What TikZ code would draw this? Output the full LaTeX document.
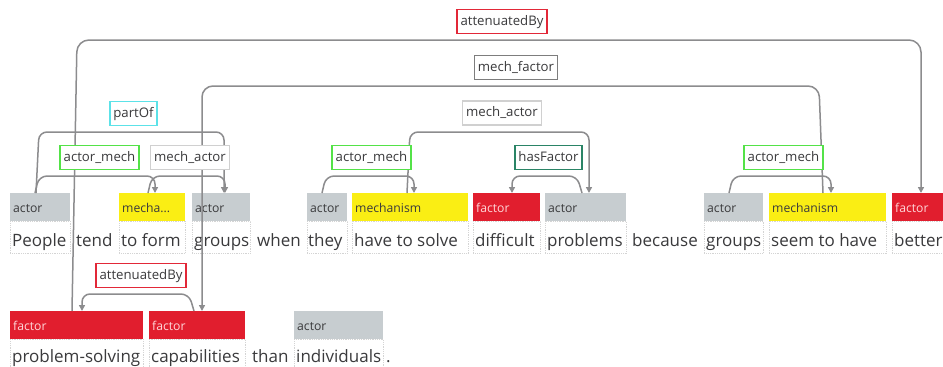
\documentclass[tikz,border=0pt]{standalone}
\usepackage{fontspec}
\setmainfont{Open Sans}
\usetikzlibrary{arrows.meta}

\newcommand\wordfont{\fontsize{17}{20}\selectfont}
\newcommand\tagfont{\fontsize{12.2}{14}\selectfont}
\newcommand\relfont{\fontsize{13.2}{15}\selectfont}

\definecolor{actorgrey}{RGB}{199,205,208}
\definecolor{mechyellow}{RGB}{250,238,20}
\definecolor{factorred}{RGB}{225,30,46}
\definecolor{factortext}{RGB}{255,214,216}
\definecolor{inkdark}{RGB}{58,58,60}
\definecolor{arcgrey}{RGB}{140,140,142}
\definecolor{framegrey}{RGB}{212,212,212}
\definecolor{relred}{RGB}{226,40,56}
\definecolor{relgrey}{RGB}{125,125,125}
\definecolor{rellight}{RGB}{208,208,208}
\definecolor{relcyan}{RGB}{92,226,232}
\definecolor{relgreen}{RGB}{84,226,72}
\definecolor{relteal}{RGB}{42,132,102}

\tikzset{
  spanbox/.style={anchor=north west, minimum height=28pt, inner xsep=3pt,
    inner ysep=0pt, text height=11.5pt, text depth=0pt, align=left,
    font=\tagfont, text=inkdark},
  actorspan/.style={spanbox, fill=actorgrey},
  mechspan/.style={spanbox, fill=mechyellow},
  factorspan/.style={spanbox, fill=factorred, text=factortext},
  word/.style={anchor=base west, inner sep=0pt, font=\wordfont, text=inkdark},
  wordframe/.style={draw=framegrey, densely dotted, line width=0.8pt},
  arc/.style={draw=arcgrey, line width=1.5pt, rounded corners=8pt,
    -{Triangle[length=6pt,width=6pt]}},
  rel/.style={draw, fill=white, line width=1.6pt, font=\relfont, text=inkdark,
    inner xsep=3.5pt, inner ysep=0pt, minimum height=24pt,
    text height=10pt, text depth=3pt},
}

\begin{document}
\begin{tikzpicture}[x=1pt, y=-1pt]
  \useasboundingbox (0,0) rectangle (943,367);
  \fill[white] (0,0) rectangle (943,367);

  % ---- first line: span tags
  \node[actorspan,  text width=54pt]  (s1)  at (10,193)  {actor};
  \node[mechspan,   text width=60pt]  (s2)  at (119,193) {mecha...};
  \node[actorspan,  text width=52pt]  (s3)  at (192,193) {actor};
  \node[actorspan,  text width=34pt]  (s4)  at (307,193) {actor};
  \node[mechspan,   text width=110pt] (s5)  at (352,193) {mechanism};
  \node[factorspan, text width=61pt]  (s6)  at (473,193) {factor};
  \node[actorspan,  text width=75pt]  (s7)  at (545,193) {actor};
  \node[actorspan,  text width=53pt]  (s8)  at (704,193) {actor};
  \node[mechspan,   text width=111pt] (s9)  at (769,193) {mechanism};
  \node[factorspan, text width=45pt]  (s10) at (892,193) {factor};

  % ---- second line: span tags
  \node[factorspan, text width=127pt] (f1) at (10,311)  {factor};
  \node[factorspan, text width=90pt]  (f2) at (149,311) {factor};
  \node[actorspan,  text width=83pt]  (f3) at (294,311) {actor};

  % dotted frames under the tagged spans
  \foreach \s in {s1,s2,s3,s4,s5,s6,s7,s8,s9,s10}
    \draw[wordframe] (\s.south west) rectangle ([yshift=-32pt]\s.south east);
  \foreach \s in {f1,f2,f3}
    \draw[wordframe] (\s.south west) rectangle ([yshift=-29pt]\s.south east);

  % ---- words, first line
  \node[word] (w1)  at (12,246)  {People};
  \node[word] (w2)  at (76,246)  {tend};
  \node[word] (w3)  at (121,246) {to form};
  \node[word] (w4)  at (194,246) {groups};
  \node[word] (w5)  at (257,246) {when};
  \node[word] (w6)  at (308,246) {they};
  \node[word] (w7)  at (354,246) {have to solve};
  \node[word] (w8)  at (475,246) {difficult};
  \node[word] (w9)  at (547,246) {problems};
  \node[word] (w10) at (632,246) {because};
  \node[word] (w11) at (706,246) {groups};
  \node[word] (w12) at (771,246) {seem to have};
  \node[word] (w13) at (894,246) {better};

  % ---- words, second line
  \node[word] (v1) at (12,362)  {problem-solving};
  \node[word] (v2) at (151,362) {capabilities};
  \node[word] (v3) at (252,362) {than};
  \node[word] (v4) at (296,362) {individuals};
  \node[word] (v5) at (386,362) {.};

  % ---- relation arcs
  % attenuatedBy (long): problem-solving -> better
  \draw[arc, rounded corners=12pt] ([xshift=62pt]f1.north west) -- ++(5,-271)
    -| ([xshift=29pt]s10.north west);
  % mech_factor: seem to have -> capabilities
  \draw[arc, rounded corners=11pt] ([xshift=54pt]s9.north west) -- ++(-4,-107)
    -| ([xshift=53pt]f2.north west);
  % mech_actor: have to solve -> problems
  \draw[arc] ([xshift=55pt]s5.north west) -- ++(3,-61)
    -| ([xshift=44pt]s7.north west);
  % partOf: People -> groups
  \draw[arc] ([xshift=26pt]s1.north west) -- ++(3,-61)
    -| ([xshift=32pt]s3.north west);
  % actor_mech: People -> to form
  \draw[arc] ([xshift=25pt]s1.north west) -- ++(4,-17)
    -| ([xshift=36pt]s2.north west);
  % mech_actor: to form -> groups
  \draw[arc] ([xshift=29pt]s2.north west) -- ++(4,-17)
    -| ([xshift=33pt]s3.north west);
  % actor_mech: they -> have to solve
  \draw[arc] ([xshift=15pt]s4.north west) -- ++(4,-17)
    -| ([xshift=62pt]s5.north west);
  % hasFactor: problems -> difficult
  \draw[arc] ([xshift=37pt]s7.north west) -- ++(-5,-17)
    -| ([xshift=39pt]s6.north west);
  % actor_mech: groups -> seem to have
  \draw[arc] ([xshift=25pt]s8.north west) -- ++(4,-17)
    -| ([xshift=62pt]s9.north west);
  % attenuatedBy (short): capabilities -> problem-solving
  \draw[arc] ([xshift=45pt]f2.north west) -- ++(-5,-17)
    -| ([xshift=72pt]f1.north west);

  % ---- relation labels
  \node[rel, draw=relred]   (r1)  at (502,21.5)  {attenuatedBy};
  \node[rel, draw=relgrey]  (r2)  at (516,67.5)  {mech\_factor};
  \node[rel, draw=rellight] (r3)  at (502,113)   {mech\_actor};
  \node[rel, draw=relcyan]  (r4)  at (133.5,113.5) {partOf};
  \node[rel, draw=relgreen] (r5)  at (99.5,157.5)  {actor\_mech};
  \node[rel, draw=rellight] (r6)  at (190,157.5)   {mech\_actor};
  \node[rel, draw=relgreen] (r7)  at (371.5,157.5) {actor\_mech};
  \node[rel, draw=relteal]  (r8)  at (548.5,157.5) {hasFactor};
  \node[rel, draw=relgreen] (r9)  at (783.5,157.5) {actor\_mech};
  \node[rel, draw=relred]   (r10) at (141,275.5)   {attenuatedBy};
\end{tikzpicture}
\end{document}
